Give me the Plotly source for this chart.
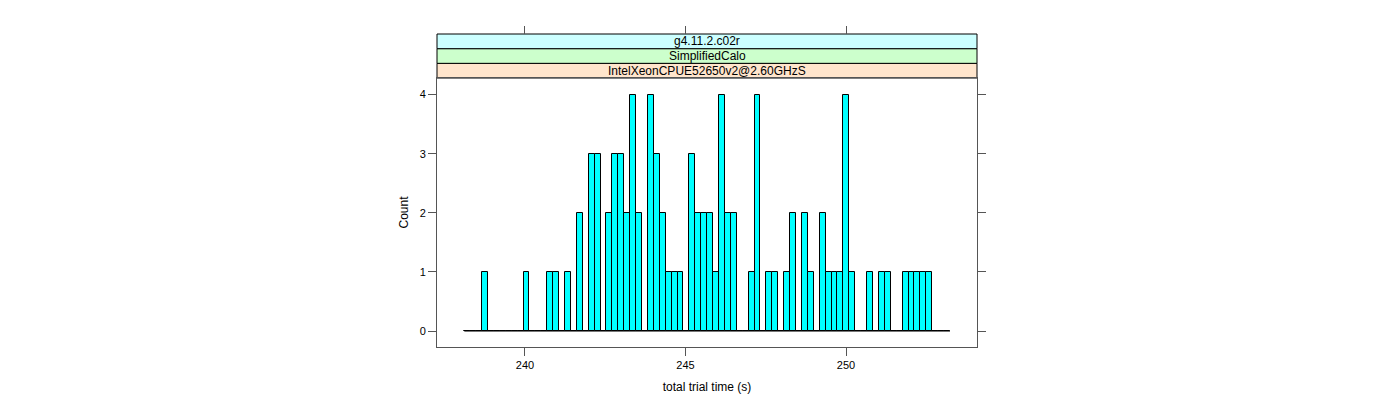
"""
Lattice-style histogram of total trial time, rebuilt with Plotly.
"""

import plotly.graph_objects as go

# histogram breaks (equal-width bins)
break_start = 238.11
bin_width = 0.1845

# counts per bin, left to right (82 bins)
counts = [
    0, 0, 0, 1, 0, 0, 0, 0, 0, 0,
    1, 0, 0, 0, 1, 1, 0, 1, 0, 2,
    0, 3, 3, 0, 2, 3, 3, 2, 4, 2,
    0, 4, 3, 2, 1, 1, 1, 0, 3, 2,
    2, 2, 1, 4, 2, 2, 0, 0, 1, 4,
    0, 1, 1, 0, 1, 2, 0, 2, 1, 0,
    2, 1, 1, 1, 4, 1, 0, 0, 1, 0,
    1, 1, 0, 0, 1, 1, 1, 1, 1, 0,
    0, 0,
]

x_ticks = [240, 245, 250]
y_ticks = [0, 1, 2, 3, 4]

# strip labels, bottom to top
strip_labels = ["IntelXeonCPUE52650v2@2.60GHzS", "SimplifiedCalo", "g4.11.2.c02r"]
strip_colors = ["#ffe5cc", "#ccffcc", "#ccffff"]

FONT = "Liberation Sans, Arial, Helvetica, sans-serif"
AXIS_COL = "#555555"

centers = [break_start + bin_width * (i + 0.5) for i in range(len(counts))]
break_end = break_start + bin_width * len(counts)

fig = go.Figure()

# baseline across the full break range (zero-height bins)
fig.add_trace(go.Scatter(
    x=[break_start, break_end],
    y=[0, 0],
    mode="lines",
    line=dict(color="black", width=1),
    hoverinfo="skip",
    showlegend=False
))

fig.add_trace(go.Bar(
    x=centers,
    y=counts,
    width=bin_width,
    marker=dict(color="#00ffff", line=dict(color="black", width=1)),
    showlegend=False
))

# panel geometry (page pixels; the html body adds an 8px offset)
offset = 8
top_px, panel_top_px, bottom_px = 34, 78, 347
left_px, right_px = 437, 977
plot_h = bottom_px - top_px
panel_frac = (bottom_px - panel_top_px) / plot_h
strip_h = (1 - panel_frac) / len(strip_labels)

shapes = []
annotations = []
for i, (label, col) in enumerate(zip(strip_labels, strip_colors)):
    y0 = panel_frac + i * strip_h
    y1 = y0 + strip_h
    shapes.append(dict(
        type="rect", xref="paper", yref="paper",
        x0=0, x1=1, y0=y0, y1=y1,
        fillcolor=col, line=dict(color="black", width=1), layer="below"
    ))
    annotations.append(dict(
        xref="paper", yref="paper", x=0.5, y=(y0 + y1) / 2,
        text=label, showarrow=False,
        font=dict(family=FONT, size=12, color="black"),
        xanchor="center", yanchor="middle"
    ))

x_range = [237.259, 254.08]

fig.update_layout(
    width=1400,
    height=400,
    margin=dict(
        l=left_px - offset, r=1400 + offset - right_px,
        t=top_px - offset, b=400 + offset - bottom_px,
        autoexpand=False
    ),
    paper_bgcolor="white",
    plot_bgcolor="white",
    bargap=0,
    font=dict(family=FONT, size=11, color="black"),
    shapes=shapes,
    annotations=annotations,
    xaxis=dict(
        range=x_range,
        tickvals=x_ticks,
        ticks="outside", ticklen=8, tickcolor=AXIS_COL,
        showline=True, linecolor=AXIS_COL, mirror=True,
        showgrid=False, zeroline=False, automargin=False,
        tickfont=dict(size=11),
        title=dict(text="total trial time (s)", font=dict(size=12), standoff=12)
    ),
    xaxis2=dict(
        range=x_range,
        tickvals=x_ticks,
        overlaying="x",
        side="top",
        anchor="free",
        position=1,
        ticks="outside", ticklen=8, tickcolor=AXIS_COL,
        showticklabels=False, automargin=False,
        showline=False, showgrid=False, zeroline=False
    ),
    yaxis=dict(
        domain=[0, panel_frac],
        range=[-0.27, 4.28],
        tickvals=y_ticks,
        ticks="outside", ticklen=8, tickcolor=AXIS_COL,
        showline=True, linecolor=AXIS_COL, mirror="ticks",
        showgrid=False, zeroline=False, automargin=False,
        tickfont=dict(size=11),
        title=dict(text="Count", font=dict(size=12), standoff=8)
    )
)

# invisible trace to activate the top tick axis
fig.add_trace(go.Scatter(
    x=[x_ticks[0]], y=[0], xaxis="x2", mode="markers",
    marker=dict(opacity=0), hoverinfo="skip", showlegend=False
))

fig.write_html("out.html")
